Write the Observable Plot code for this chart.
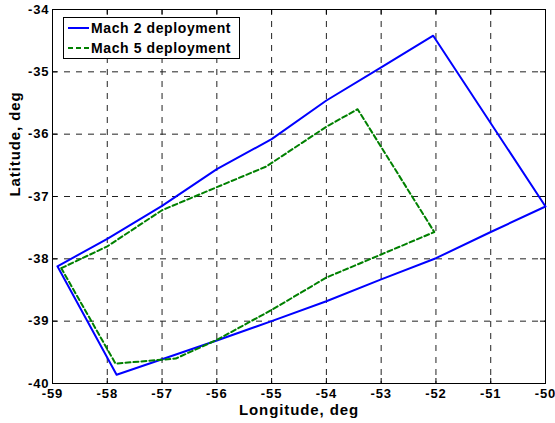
<!DOCTYPE html>
<html>
<head>
<meta charset="utf-8">
<script src="https://cdn.jsdelivr.net/npm/d3@7"></script>
<script src="https://cdn.jsdelivr.net/npm/@observablehq/plot@0.6"></script>
<style>
  html, body { margin: 0; padding: 0; background: #fff; }
  #chart { position: relative; width: 555px; height: 423px; }
  #legend {
    position: absolute; left: 63px; top: 17px; width: 175px; height: 40px;
    border: 1px solid #000; background: #fff;
    font-family: "Liberation Sans", Arial, sans-serif; font-weight: bold;
    font-size: 14px; letter-spacing: 0.6px; color: #000;
  }
  .row { position: absolute; left: 3px; height: 20px; display: flex; align-items: center; white-space: nowrap; }
  .row svg { margin-right: 2px; }
</style>
</head>
<body>
<div id="chart"></div>
<script>
// Deployment footprint outlines (longitude / latitude, deg)
const mach2Lon = [-58.91, -58.0, -57.0, -56.0, -55.0, -54.0, -53.0, -52.05, -50.0, -51.0, -52.0, -53.0, -54.0, -55.0, -56.0, -57.0, -57.83, -58.91];
const mach2Lat = [-38.12, -37.68, -37.15, -36.56, -36.08, -35.46, -34.93, -34.42, -37.16, -37.57, -37.99, -38.33, -38.68, -39.00, -39.31, -39.61, -39.86, -38.12];

const mach5Lon = [-58.84, -58.0, -57.0, -56.0, -55.1, -54.0, -53.43, -52.03, -53.0, -54.0, -55.0, -56.0, -56.75, -57.85, -58.84];
const mach5Lat = [-38.15, -37.80, -37.22, -36.85, -36.52, -35.88, -35.60, -37.57, -37.93, -38.30, -38.82, -39.30, -39.60, -39.68, -38.15];

const xTicks = [-59, -58, -57, -56, -55, -54, -53, -52, -51, -50];
const yTicks = [-40, -39, -38, -37, -36, -35, -34];

const seriesNames = ["Mach 2 deployment", "Mach 5 deployment"];
const seriesColors = ["#0000ff", "#008000"];

const mach2 = mach2Lon.map((lon, i) => ({lon, lat: mach2Lat[i]}));
const mach5 = mach5Lon.map((lon, i) => ({lon, lat: mach5Lat[i]}));

const W = 555, H = 423;
const mL = 52, mR = 10, mT = 9, mB = 40;
const innerW = W - mL - mR;
const innerH = H - mT - mB;
const tickLen = 5;
const font = "'Liberation Sans', Arial, sans-serif";
const fmt = d => String(d); // plain hyphen minus

// interior grid positions (the frame covers the outer ones)
const gridX = xTicks.slice(1, -1);
const gridY = yTicks.slice(1, -1);

const chart = Plot.plot({
  width: W, height: H,
  marginLeft: mL, marginRight: mR, marginTop: mT, marginBottom: mB,
  x: {domain: [-59, -50]},
  y: {domain: [-40, -34]},
  style: {fontFamily: font, fontSize: "13px", fontWeight: "bold", letterSpacing: "0.9px", color: "#000", background: "#fff", overflow: "visible"},
  marks: [
    // dashed grid
    Plot.ruleX(gridX, {x: d => d, stroke: "#222", strokeDasharray: "6,6", strokeWidth: 1}),
    Plot.ruleY(gridY, {y: d => d, stroke: "#222", strokeDasharray: "6,6", strokeWidth: 1}),
    // inward ticks on all four sides
    Plot.ruleX(xTicks, {x: d => d, insetTop: innerH - tickLen, stroke: "#000"}),
    Plot.ruleX(xTicks, {x: d => d, insetBottom: innerH - tickLen, stroke: "#000"}),
    Plot.ruleY(yTicks, {y: d => d, insetRight: innerW - tickLen, stroke: "#000"}),
    Plot.ruleY(yTicks, {y: d => d, insetLeft: innerW - tickLen, stroke: "#000"}),
    Plot.axisX(xTicks, {tickSize: 0, tickPadding: 5, label: null, tickFormat: fmt, fontSize: 13}),
    Plot.axisY(yTicks, {tickSize: 0, tickPadding: 3, label: null, tickFormat: fmt, fontSize: 13}),
    Plot.frame({stroke: "#000", strokeWidth: 1}),
    Plot.line(mach2, {x: "lon", y: "lat", stroke: seriesColors[0], strokeWidth: 2, curve: "linear"}),
    Plot.line(mach5, {x: "lon", y: "lat", stroke: seriesColors[1], strokeWidth: 2, strokeDasharray: "5,3", curve: "linear"}),
    // axis titles
    Plot.text(["Longitude, deg"], {frameAnchor: "bottom", dy: 31, text: d => d, fontSize: 15, fontWeight: "bold"}),
    Plot.text(["Latitude, deg"], {frameAnchor: "left", dx: -37, rotate: -90, text: d => d, fontSize: 15, fontWeight: "bold"})
  ]
});

const container = document.getElementById("chart");
container.appendChild(chart);

// legend box
const legend = document.createElement("div");
legend.id = "legend";
seriesNames.forEach((name, i) => {
  const row = document.createElement("div");
  row.className = "row";
  row.style.top = (i * 20) + "px";
  const dash = i === 1 ? ' stroke-dasharray="5,3"' : "";
  row.innerHTML = `<svg width="22" height="20"><line x1="1" x2="22" y1="10" y2="10" stroke="${seriesColors[i]}" stroke-width="2"${dash}/></svg><span>${name}</span>`;
  legend.appendChild(row);
});
container.appendChild(legend);
</script>
</body>
</html>
